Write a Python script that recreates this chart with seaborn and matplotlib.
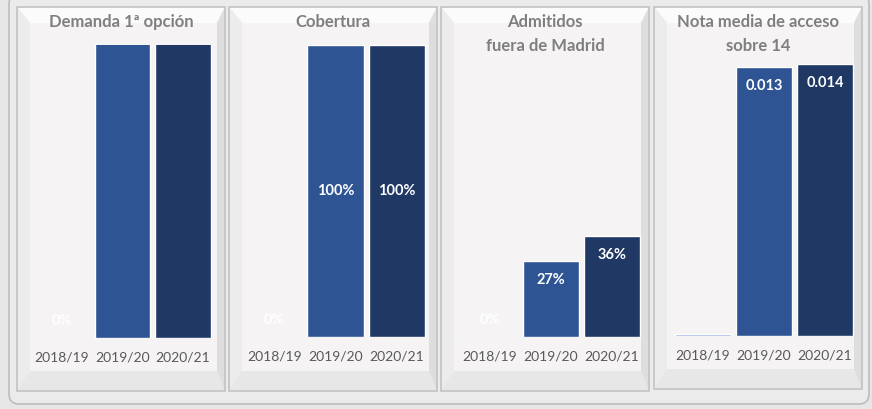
import matplotlib
matplotlib.use("Agg")
import matplotlib.pyplot as plt
import seaborn as sns
import pandas as pd
from matplotlib.patches import Polygon, Rectangle, FancyBboxPatch

# ---------------- data ----------------
cursos = ["2018/19", "2019/20", "2020/21"]
demanda_1a_opcion = [0.0, 1.60, 1.70]
cobertura = [0.0, 1.00, 1.00]
admitidos_fuera_madrid = [0.0, 0.27, 0.36]
nota_media_sobre_14 = [0.00012, 0.01349, 0.01364]
titulos = ["Demanda 1ª opción", "Cobertura",
           "Admitidos\nfuera de Madrid", "Nota media de acceso\nsobre 14"]
formatos = ["{:.0%}", "{:.0%}", "{:.0%}", "{:.3f}"]
colores = ["#8FAADC", "#2E5494", "#1F3864"]

series = [demanda_1a_opcion, cobertura, admitidos_fuera_madrid, nota_media_sobre_14]

# ---------------- layout (pixels) ----------------
W, H = 872, 409
paneles = [(17, 7, 225, 391), (229, 7, 437, 391), (441, 7, 649, 391), (654, 7, 862, 389)]
ejes = [(31.5, 45, 213.5, 338), (243.5, 45, 427.5, 337),
        (459.5, 57, 642.5, 337), (672.5, 63, 855.5, 336)]
ymax = [1.0, 1.0, 1.0, 0.0137]
modo = ["end", "center", "end", "end"]

sns.set_theme(style="white")
plt.rcParams['font.family'] = ['Lato', 'DejaVu Sans']

fig = plt.figure(figsize=(W / 100, H / 100), dpi=100, facecolor="#e6e6e6")

# decoration overlay in pixel coordinates
bg = fig.add_axes([0, 0, 1, 1], zorder=-5)
bg.set_xlim(0, W)
bg.set_ylim(H, 0)
bg.axis("off")

bg.add_patch(FancyBboxPatch((9, -6), 860, 410, boxstyle="round,pad=0,rounding_size=10",
                            fc="#ebebeb", ec="#bdbdbd", lw=1.2))


def panel(x0, y0, x1, y1):
    l, t, r, b = x0 + 13, y0 + 16, x1 - 8, y1 - 20
    bg.add_patch(Polygon([(x0, y0), (x1, y0), (r, t), (l, t)], closed=True, fc="#fbfbfb", ec="none"))
    bg.add_patch(Polygon([(x0, y0), (l, t), (l, b), (x0, y1)], closed=True, fc="#ececec", ec="none"))
    bg.add_patch(Polygon([(x1, y0), (x1, y1), (r, b), (r, t)], closed=True, fc="#dedede", ec="none"))
    bg.add_patch(Polygon([(x0, y1), (l, b), (r, b), (x1, y1)], closed=True, fc="#e7e7e7", ec="none"))
    bg.add_patch(Rectangle((l, t), r - l, b - t, fc="#f5f3f4", ec="none"))
    bg.add_patch(Rectangle((x0, y0), x1 - x0, y1 - y0, fc="none", ec="#c3c3c3", lw=1.2))


for (x0, y0, x1, y1), titulo in zip(paneles, titulos):
    panel(x0, y0, x1, y1)
    for j, linea in enumerate(titulo.split("\n")):
        bg.text((x0 + x1) / 2, 22 + 24 * j, linea, ha="center", va="center", fontsize=12,
                fontweight="bold", color="#7f7f7f")

for k, vals in enumerate(series):
    x0, yt, x1, yb = ejes[k]
    ax = fig.add_axes([x0 / W, 1 - yb / H, (x1 - x0) / W, (yb - yt) / H])
    ax.set_facecolor("none")
    df = pd.DataFrame({"curso": cursos, "valor": vals})
    sns.barplot(data=df, x="curso", y="valor", hue="curso", hue_order=cursos,
                palette=colores, legend=False, width=0.92, saturation=1, ax=ax)
    ax.set_xlim(-0.5, 2.5)
    ax.set_ylim(0, ymax[k])
    ax.set_xlabel("")
    ax.set_ylabel("")
    ax.set_yticks([])
    for s in ax.spines.values():
        s.set_visible(False)
    ax.tick_params(axis="x", length=0, pad=9.5, labelsize=10, labelcolor="#595959")
    alto_px = yb - yt
    for i, v in enumerate(vals):
        txt = formatos[k].format(v)
        h_px = min(v, ymax[k]) / ymax[k] * alto_px
        if v == 0:
            ax.annotate(txt, (i, 0), xytext=(0, 12.5), textcoords="offset points",
                        ha="center", va="center", fontsize=10.5, fontweight="bold",
                        color="white", annotation_clip=True)
        elif h_px < 30:
            continue
        elif modo[k] == "center":
            ax.annotate(txt, (i, min(v, ymax[k]) / 2), ha="center", va="center",
                        fontsize=10.5, fontweight="bold", color="white", annotation_clip=True)
        else:
            ax.annotate(txt, (i, v), xytext=(0, -13.7), textcoords="offset points",
                        ha="center", va="center", fontsize=10.5, fontweight="bold",
                        color="white", annotation_clip=True)

fig.savefig("out.png", dpi=100, facecolor=fig.get_facecolor())
